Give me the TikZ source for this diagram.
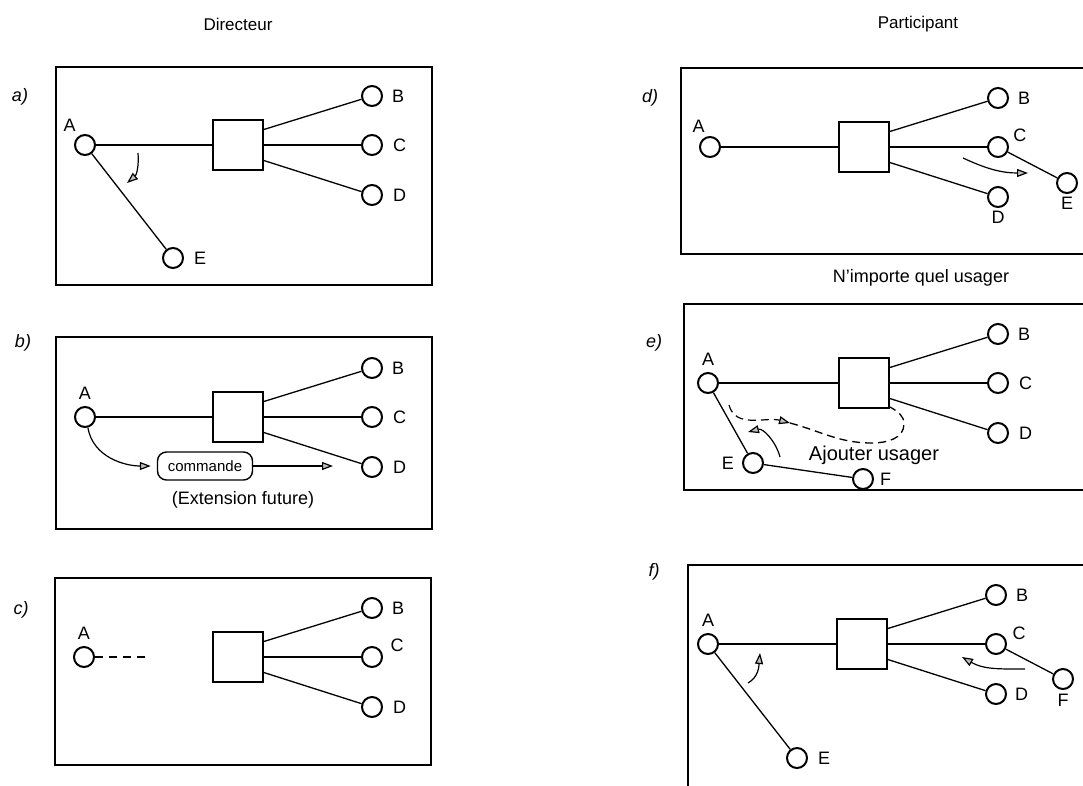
\documentclass[tikz,border=0pt]{standalone}
\usepackage{fontspec}
\setmainfont{Liberation Sans}
\usetikzlibrary{arrows.meta}

\newcommand{\taille}[1]{\fontsize{#1}{#1}\selectfont}

\tikzset{
  poste/.style={circle, draw, line width=2pt, minimum size=20pt, inner sep=0pt},
  central/.style={rectangle, draw, line width=1.5pt, minimum size=50pt, inner sep=0pt},
  lettre/.style={font=\taille{18}, inner sep=0pt},
  ligne/.style={line width=1.3pt},
  fleche/.style={line width=1.2pt, -{Triangle[length=11pt,width=8pt,fill=gray!50]}},
  cadre/.style={line width=1.3pt},
  repere/.style={font=\taille{18}\itshape, inner sep=0pt},
  titre/.style={font=\taille{17}, inner sep=0pt},
}

% commutateur central avec les usagers B, C et D
\newcommand{\reseau}[5]{
  \node[central] (#1s) at (0,0) {};
  \node[poste, label={[lettre,label distance=9pt]east:B}] (#1b) at (134,-49) {};
  \node[poste, label={[lettre,label distance=#3]#2:C}] (#1c) at (134,0) {};
  \node[poste, label={[lettre,label distance=#5]#4:D}] (#1d) at (134,50) {};
  \draw[ligne] (#1s.31) -- (#1b);
  \draw[ligne] (#1s.east) -- (#1c);
  \draw[ligne] (#1s.-31) -- (#1d);
}

\begin{document}
\begin{tikzpicture}[x=1pt,y=-1pt]
  \clip (0,0) rectangle (1083,785);

  \node[titre] (dir) at (238,24) {Directeur};
  \node[titre] (part) at (918,24) {Participant};
  \node[lettre] (nimp) at (921,278) {N’importe quel usager};

  \node[repere] (la) at (20,97) {a)};
  \node[repere] (lb) at (23,343) {b)};
  \node[repere] (lc) at (21,610) {c)};
  \node[repere] (ld) at (650,98) {d)};
  \node[repere] (le) at (654,343) {e)};
  \node[repere] (lf) at (654,572) {f)};

  \draw[cadre] (56,67) rectangle (432,285);
  \draw[cadre] (56,337) rectangle (432,529);
  \draw[cadre] (55,578) rectangle (431,765);
  \draw[cadre] (681,68) rectangle (1100,254);
  \draw[cadre] (684,304) rectangle (1100,490);
  \draw[cadre] (688,565) rectangle (1100,800);

  % a)
  \begin{scope}[shift={(238,145)}]
    \reseau{a}{east}{10pt}{east}{10pt}
    \node[poste, label={[lettre,label distance=5pt]125:A}] (aa) at (-153,0) {};
    \node[poste, label={[lettre,label distance=10pt]east:E}] (ae) at (-65,113) {};
    \draw[ligne] (aa) -- (as);
    \draw[ligne] (aa) -- (ae);
    \coordinate (a1) at (-100,8);
    \coordinate (a2) at (-111,38);
    \draw[fleche] (a1) to[out=-85,in=40] (a2);
  \end{scope}

  % b)
  \begin{scope}[shift={(238,417)}]
    \reseau{b}{east}{10pt}{east}{10pt}
    \node[poste, label={[lettre,label distance=6pt]90:A}] (ba) at (-153,0) {};
    \node[draw, line width=1.4pt, rounded corners=9pt, minimum width=95pt,
      minimum height=28pt, font=\taille{15}] (bcmd) at (-33,49) {commande};
    \node[lettre] (bext) at (5,83) {(Extension future)};
    \coordinate (b1) at (95,49);
    \draw[ligne] (ba) -- (bs);
    \draw[fleche, shorten >=6pt] (ba.-75) to[out=-80,in=180] (bcmd.west);
    \draw[fleche] (bcmd.east) -- (b1);
  \end{scope}

  % c)
  \begin{scope}[shift={(238,657)}]
    \reseau{c}{15}{8pt}{east}{10pt}
    \node[poste, label={[lettre,label distance=6pt]90:A}] (ca) at (-154,0) {};
    \coordinate (c1) at (-93,0);
    \draw[ligne, dash pattern=on 8pt off 6pt] (ca) -- (c1);
  \end{scope}

  % d)
  \begin{scope}[shift={(864,147)}]
    \reseau{d}{20}{5pt}{south}{3pt}
    \node[poste, label={[lettre,label distance=4pt]110:A}] (da) at (-154,0) {};
    \node[poste, label={[lettre,label distance=3pt]south:E}] (de) at (203,36) {};
    \draw[ligne] (da) -- (ds);
    \draw[ligne] (dc) -- (de);
    \coordinate (d1) at (99,11);
    \coordinate (d2) at (164,26);
    \draw[fleche] (d1) to[out=-25,in=180] (d2);
  \end{scope}

  % e)
  \begin{scope}[shift={(864,383)}]
    \reseau{e}{east}{10pt}{east}{10pt}
    \node[poste, label={[lettre,label distance=6pt]90:A}] (ea) at (-156,0) {};
    \node[poste, label={[lettre,label distance=8pt]west:E}] (ee) at (-111,80) {};
    \node[poste, label={[lettre,label distance=6pt]east:F}] (ef) at (-1,96) {};
    \draw[ligne] (ea) -- (es);
    \draw[ligne] (ea) -- (ee);
    \draw[ligne] (ee) -- (ef);
    \coordinate (e1) at (-135,22);
    \coordinate (e2) at (-74,40);
    \coordinate (e3) at (8,60);
    \coordinate (e4) at (40,41);
    \coordinate (e5) at (26,24);
    \draw[fleche, dash pattern=on 8pt off 5pt] (e1) to[out=-75,in=165] (e2);
    \draw[ligne, dash pattern=on 8pt off 5pt] (e2) to[out=-15,in=180] (e3)
      to[out=0,in=-90] (e4) to[out=90,in=-30] (e5);
    \coordinate (e6) at (-84,74);
    \coordinate (e7) at (-116,49);
    \draw[fleche] (e6) to[out=105,in=15] (e7);
    \node[font=\taille{20}, inner sep=0pt] (eajout) at (10,72) {Ajouter usager};
  \end{scope}

  % f)
  \begin{scope}[shift={(862,644)}]
    \reseau{f}{15}{6pt}{east}{8pt}
    \node[poste, label={[lettre,label distance=6pt]90:A}] (fa) at (-154,0) {};
    \node[poste, label={[lettre,label distance=10pt]east:E}] (fe) at (-65,114) {};
    \node[poste, label={[lettre,label distance=4pt]south:F}] (ff) at (201,35) {};
    \draw[ligne] (fa) -- (fs);
    \draw[ligne] (fa) -- (fe);
    \draw[ligne] (fc) -- (ff);
    \coordinate (f1) at (-114,39);
    \coordinate (f2) at (-102,9);
    \draw[fleche] (f1) to[out=30,in=-95] (f2);
    \coordinate (f3) at (163,25);
    \coordinate (f4) at (100,13);
    \draw[fleche] (f3) to[out=180,in=-30] (f4);
  \end{scope}
\end{tikzpicture}
\end{document}
